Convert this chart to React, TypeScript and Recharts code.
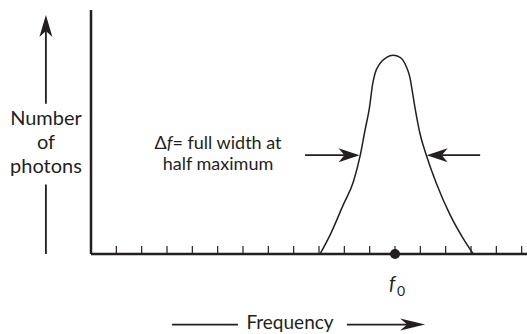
import React from 'react';
import { ComposedChart, Line, XAxis, YAxis, ReferenceLine, ReferenceDot } from 'recharts';

// Frequency (in tick units) and photon counts
const frequency = [9.04, 9.44, 9.96, 10.36, 10.62, 10.81, 10.99, 11.12, 11.21, 11.41, 11.67, 11.93, 12.2, 12.46, 12.59, 12.66, 12.79, 12.99, 13.25, 13.65, 14.17, 14.7, 15.09];
const photons = [0, 19, 49, 72, 97, 122, 145, 169, 179, 189, 195, 197, 195, 185, 175, 165, 145, 119, 97, 69, 39, 15, 0];
const tickPositions = [1, 2, 3, 4, 5, 6, 7, 8, 9, 10, 11, 12, 13, 14, 15, 16, 17];
const centerFrequency = 12;
const halfMax = 98;
const fwhmLeft = 10.6;
const fwhmRight = 13.25;

const data = frequency.map((f, i) => ({ f, n: photons[i] }));

const INK = '#231f20';
const FONT = 'Lato, "Noto Sans", sans-serif';

const makeArrow = (withHead: boolean, headLen = 20, headHalf = 6.5) => (p: any) => {
  const { x1, y1, x2, y2 } = p;
  const dx = x2 - x1;
  const dy = y2 - y1;
  const len = Math.sqrt(dx * dx + dy * dy) || 1;
  const ux = dx / len;
  const uy = dy / len;
  const nx = -uy;
  const ny = ux;
  if (!withHead) {
    return <line x1={x1} y1={y1} x2={x2} y2={y2} stroke={INK} strokeWidth={1.8} />;
  }
  const bx = x2 - ux * headLen;
  const by = y2 - uy * headLen;
  const notchX = x2 - ux * headLen * 0.72;
  const notchY = y2 - uy * headLen * 0.72;
  const pts = `${x2},${y2} ${bx + nx * headHalf},${by + ny * headHalf} ${notchX},${notchY} ${bx - nx * headHalf},${by - ny * headHalf}`;
  return (
    <g>
      <line x1={x1} y1={y1} x2={notchX} y2={notchY} stroke={INK} strokeWidth={1.8} />
      <polygon points={pts} fill={INK} />
    </g>
  );
};

const NoLabel = () => <g />;

export default function App() {
  return (
    <div style={{ position: 'absolute', left: 0, top: 0, background: '#fff' }}>
      <ComposedChart
        width={527}
        height={334}
        data={data}
        margin={{ top: 10, right: 0, bottom: 80, left: 89 }}
      >
        <XAxis
          dataKey="f"
          type="number"
          domain={[0, 17.21]}
          ticks={tickPositions}
          tick={NoLabel}
          interval={0}
          mirror
          tickSize={8}
          height={2}
          axisLine={{ stroke: INK, strokeWidth: 2.5 }}
          tickLine={{ stroke: INK, strokeWidth: 1.2 }}
        />
        <YAxis
          type="number"
          domain={[0, 242]}
          width={2}
          tick={false}
          tickLine={false}
          axisLine={{ stroke: INK, strokeWidth: 2.5 }}
        />
        <Line
          type="monotone"
          dataKey="n"
          stroke={INK}
          strokeWidth={1.5}
          dot={false}
          isAnimationActive={false}
        />
        <ReferenceDot x={centerFrequency} y={0} r={5} fill={INK} stroke="none" ifOverflow="visible" />
        <ReferenceLine
          segment={[{ x: 8.45, y: halfMax }, { x: fwhmLeft, y: halfMax }]}
          ifOverflow="visible"
          shape={makeArrow(true, 21, 7)}
        />
        <ReferenceLine
          segment={[{ x: 15.36, y: halfMax }, { x: fwhmRight, y: halfMax }]}
          ifOverflow="visible"
          shape={makeArrow(true, 21, 7)}
        />
        <ReferenceLine
          segment={[{ x: -1.78, y: 149 }, { x: -1.78, y: 237 }]}
          ifOverflow="visible"
          shape={makeArrow(true, 22, 6.5)}
        />
        <ReferenceLine
          segment={[{ x: -1.78, y: 69 }, { x: -1.78, y: 0 }]}
          ifOverflow="visible"
          shape={makeArrow(false)}
        />
        <ReferenceLine
          segment={[{ x: 3.2, y: -70 }, { x: 5.8, y: -70 }]}
          ifOverflow="visible"
          shape={makeArrow(false)}
        />
        <ReferenceLine
          segment={[{ x: 10.1, y: -70 }, { x: 13.19, y: -70 }]}
          ifOverflow="visible"
          shape={makeArrow(true, 25, 6)}
        />
        <text x={46} y={125} textAnchor="middle" fontFamily={FONT} fontSize={20} fill={INK}>Number</text>
        <text x={46} y={149} textAnchor="middle" fontFamily={FONT} fontSize={20} fill={INK}>of</text>
        <text x={46} y={173} textAnchor="middle" fontFamily={FONT} fontSize={20} fill={INK}>photons</text>
        <text x={218} y={149} textAnchor="middle" fontFamily={FONT} fontSize={18} fill={INK}>
          <tspan>Δ</tspan><tspan fontStyle="italic">f</tspan><tspan>= full width at</tspan>
        </text>
        <text x={218} y={170} textAnchor="middle" fontFamily={FONT} fontSize={18} fill={INK}>half maximum</text>
        <text x={290} y={329} textAnchor="middle" fontFamily={FONT} fontSize={19} fill={INK}>Frequency</text>
        <text x={389} y={290} fontFamily={FONT} fontSize={20} fontStyle="italic" fill={INK}>f</text>
        <text x={397} y={296} fontFamily={FONT} fontSize={14} fill={INK}>0</text>
      </ComposedChart>
    </div>
  );
}
